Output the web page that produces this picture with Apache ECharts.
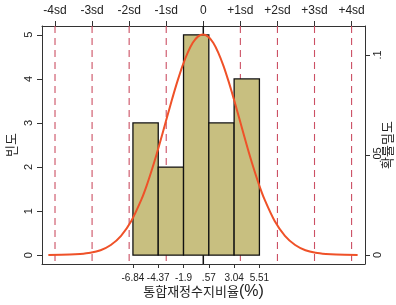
<!DOCTYPE html>
<html><head><meta charset="utf-8">
<script src="https://cdn.jsdelivr.net/npm/echarts@6/dist/echarts.min.js"></script>
<style>html,body{margin:0;padding:0;background:#fff}#c{width:396px;height:305px}</style>
</head><body><div id="c"></div>
<script>
// ---- data ----
const binEdges = [-6.84, -4.37, -1.90, 0.57, 3.04, 5.51];
const binLabels = ['-6.84', '-4.37', '-1.9', '.57', '3.04', '5.51'];
const counts = [3, 2, 5, 3, 4];
const meanVal = 0.03;
const sdVal = 3.62;
const sdSteps = [-4, -3, -2, -1, 0, 1, 2, 3, 4];
const sdLabels = ['-4sd', '-3sd', '-2sd', '-1sd', '0', '+1sd', '+2sd', '+3sd', '+4sd'];
const curveX = [-15.1, -13, -12, -11, -10, -9, -8, -7, -6, -5.5, -5, -4.5, -4, -3.5, -3, -2.5, -2, -1.5, -1, -0.5,
  0, 0.5, 1, 1.5, 2, 2.5, 3, 3.5, 4, 4.5, 5, 5.5, 6, 7, 8, 9, 10, 11, 12, 13, 15.1];
const curveY = [0.0000, 0.0002, 0.0005, 0.0011, 0.0024, 0.0050, 0.0096, 0.0170, 0.0279, 0.0347, 0.0425, 0.0509, 0.0599, 0.0691, 0.0782, 0.0868, 0.0946, 0.1011, 0.1061, 0.1092,
  0.1102, 0.1092, 0.1061, 0.1011, 0.0946, 0.0868, 0.0782, 0.0691, 0.0599, 0.0509, 0.0425, 0.0347, 0.0279, 0.0170, 0.0096, 0.0050, 0.0024, 0.0011, 0.0005, 0.0002, 0.0000];
const freqTicks = [0, 1, 2, 3, 4, 5];
const densTicks = [0, 0.05, 0.1];
const densLabels = ['0', '.05', '.1'];

// ---- derived ----
const sdPos = sdSteps.map(k => meanVal + k * sdVal);
const sdLinePos = sdSteps.filter(k => k !== 0).map(k => meanVal + k * sdVal);
const bars = counts.map((c, i) => [binEdges[i], binEdges[i + 1], c]);
const curve = curveX.map((x, i) => [x, curveY[i]]);
function lookup(vals, labels, v) {
  const i = vals.findIndex(e => Math.abs(e - v) < 1e-6);
  return i >= 0 ? labels[i] : '';
}
const FONT = "'Liberation Sans','Noto Sans CJK KR',sans-serif";
const AX = '#333';

const chart = echarts.init(document.getElementById('c'), null, {renderer: 'canvas'});
function vline(color, width, dash) {
  return function (params, api) {
    const x = api.coord([api.value(0), 0])[0];
    const cs = params.coordSys;
    return {type: 'line', shape: {x1: x, y1: cs.y, x2: x, y2: cs.y + cs.height},
      style: {stroke: color, lineWidth: width, lineDash: dash}};
  };
}
chart.setOption({
  animation: false,
  textStyle: {fontFamily: FONT},
  grid: {left: 42, right: 31, top: 26, bottom: 41, containLabel: false, outerBoundsMode: 'none'},
  xAxis: [{
    type: 'value', position: 'bottom', min: -15.72, max: 15.82,
    axisLine: {onZero: false, lineStyle: {color: AX, width: 1}},
    splitLine: {show: false},
    axisTick: {customValues: binEdges, length: 4, lineStyle: {color: AX}},
    axisLabel: {customValues: binEdges, formatter: v => lookup(binEdges, binLabels, v),
      fontSize: 10, color: '#222', margin: 9, fontFamily: FONT,
      showMinLabel: true, showMaxLabel: true, hideOverlap: false},
    name: '{a|통합재정수지비율}{b|(%)}', nameLocation: 'middle', nameGap: 20, nameMoveOverlap: false,
    nameTextStyle: {rich: {a: {fontSize: 13, color: '#222', fontFamily: FONT},
      b: {fontSize: 16, color: '#222', fontFamily: FONT}}}
  }, {
    type: 'value', position: 'top', min: -15.72, max: 15.82,
    axisLine: {onZero: false, lineStyle: {color: AX, width: 1}},
    splitLine: {show: false},
    axisTick: {customValues: sdPos, length: 5, lineStyle: {color: AX}},
    axisLabel: {customValues: sdPos, formatter: v => lookup(sdPos, sdLabels, v),
      fontSize: 12, color: '#222', margin: 9, fontFamily: FONT,
      showMinLabel: true, showMaxLabel: true}
  }],
  yAxis: [{
    type: 'value', position: 'left', min: -0.2, max: 5.2,
    axisLine: {show: true, onZero: false, lineStyle: {color: AX, width: 1}},
    splitLine: {show: false},
    axisTick: {show: true, customValues: freqTicks, length: 5, lineStyle: {color: AX}},
    axisLabel: {customValues: freqTicks, rotate: 90, fontSize: 11, color: '#222', margin: 8, fontFamily: FONT,
      showMinLabel: true, showMaxLabel: true},
    name: '빈도', nameLocation: 'middle', nameGap: 23, nameRotate: 90, nameMoveOverlap: false,
    nameTextStyle: {fontSize: 13, color: '#222', fontFamily: FONT}
  }, {
    type: 'value', position: 'right', min: -0.0045, max: 0.1145,
    axisLine: {show: true, onZero: false, lineStyle: {color: AX, width: 1}},
    splitLine: {show: false},
    axisTick: {show: true, customValues: densTicks, length: 5, lineStyle: {color: AX}},
    axisLabel: {customValues: densTicks, formatter: v => lookup(densTicks, densLabels, v),
      rotate: 90, fontSize: 11, color: '#222', margin: 7, fontFamily: FONT,
      showMinLabel: true, showMaxLabel: true},
    name: '확률밀도', nameLocation: 'middle', nameGap: 17, nameRotate: 90, nameMoveOverlap: false,
    nameTextStyle: {fontSize: 13, color: '#222', fontFamily: FONT}
  }],
  series: [{
    type: 'custom', xAxisIndex: 0, yAxisIndex: 0, z: 1, silent: true,
    data: sdLinePos.map(v => [v]), encode: {x: 0},
    renderItem: vline('#cc5064', 1.1, [7, 5])
  }, {
    type: 'custom', xAxisIndex: 0, yAxisIndex: 0, z: 1, silent: true,
    data: [[meanVal]], encode: {x: 0},
    renderItem: vline('#111', 1.5, null)
  }, {
    type: 'custom', xAxisIndex: 0, yAxisIndex: 0, z: 2, silent: true,
    data: bars, encode: {x: [0, 1], y: 2},
    renderItem: function (params, api) {
      const p0 = api.coord([api.value(0), api.value(2)]);
      const p1 = api.coord([api.value(1), 0]);
      return {type: 'rect', shape: {x: p0[0], y: p0[1], width: p1[0] - p0[0], height: p1[1] - p0[1]},
        style: {fill: '#c8bf80', stroke: '#111', lineWidth: 1.3}};
    }
  }, {
    type: 'line', xAxisIndex: 0, yAxisIndex: 1, z: 3, silent: true,
    data: curve, smooth: 0.3, showSymbol: false, symbol: 'none',
    lineStyle: {color: '#ef5128', width: 2}
  }]
});
</script></body></html>
